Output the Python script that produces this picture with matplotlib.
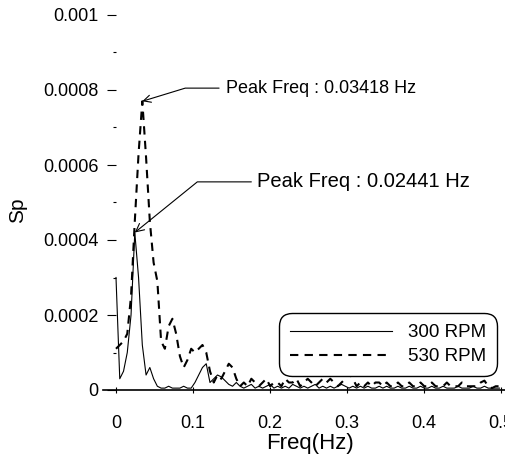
import matplotlib
matplotlib.use("Agg")
import matplotlib.pyplot as plt
import numpy as np
from matplotlib.ticker import MultipleLocator

plt.rcParams["font.family"] = ["Liberation Sans", "DejaVu Sans"]

DF = 0.0048828  # frequency resolution (Hz)

# spectral power, in units of 1e-5
SP_300 = [
    30, 3, 5, 10, 20, 42, 30, 12, 4, 6, 3, 1, 0.5, 0.5, 1, 0.5, 0.5, 0.5, 1, 0.5,
    0.5, 2, 4, 6, 7, 2, 3, 4, 3.5, 2.5, 1.5, 1, 2, 1, 0.5, 1, 1.5, 0.5, 1, 0.5,
    1, 1.5, 0.5, 1, 0.5, 1, 0.5, 1.5, 1, 0.5, 1, 0.5, 1, 1.5, 0.5, 1, 0.5, 1, 0.5, 1,
    1.5, 1, 0.5, 1, 0.5, 1, 0.5, 1, 0.5, 0.5, 1, 0.5, 1, 0.5, 0.5, 1, 0.5, 0.5, 1, 0.5,
    0.5, 1, 0.5, 0.5, 1, 0.5, 0.5, 1, 0.5, 0.5, 0.5, 1, 0.5, 0.5, 0.5, 1, 0.5, 0.5, 1, 0.5,
    0.5, 0.5, 0.5,
]
SP_530 = [
    11, 12, 13, 15, 25, 45, 63, 77, 62, 45, 34, 29, 13, 11, 17, 19, 15, 9, 6, 8,
    11, 10, 11, 12, 10, 5, 2, 4, 3, 5, 7, 6, 3, 1, 2, 1, 3, 2, 1, 2,
    3, 1, 2, 2, 1, 3, 2, 2, 3, 1, 2, 3, 2, 1, 2, 3, 2, 3, 2, 1,
    2, 3, 4.5, 3, 1, 2, 1, 2, 1, 2, 2, 1, 2, 1, 1, 2, 1, 1, 2, 1,
    1, 2, 1, 1, 2, 1, 1, 1, 2, 1, 1, 1, 2, 1, 1, 1, 1, 2, 2.5, 1,
    0.5, 1, 1,
]
LABELS = ["300 RPM", "530 RPM"]
PEAK_300 = 0.02441
PEAK_530 = 0.03418


def main() -> None:
    freq = np.arange(len(SP_530)) * DF
    sp300 = np.array(SP_300) * 1e-5
    sp530 = np.array(SP_530) * 1e-5

    fig = plt.figure(figsize=(5.06, 4.62), dpi=100)
    # axes stretch a little past the right border, as in the cropped scan
    ax = fig.add_axes([103 / 506, 72 / 462, 417 / 506, 382.5 / 462])

    ax.plot(freq, sp300, color="black", lw=0.8, label=LABELS[0])
    ax.plot(freq, sp530, color="black", lw=1.5, ls=(0, (4, 3)), label=LABELS[1])

    ax.set_xlim(-0.01688, 0.5247)
    ax.set_ylim(0, 0.00102)

    for side in ("top", "right", "left"):
        ax.spines[side].set_visible(False)
    ax.spines["left"].set_position(("data", 0))
    ax.spines["bottom"].set_linewidth(1.2)

    ax.set_xticks([0, 0.1, 0.2, 0.3, 0.4, 0.5])
    ax.set_xticklabels(["0", "0.1", "0.2", "0.3", "0.4", "0.5"])
    ax.set_yticks([0, 0.0002, 0.0004, 0.0006, 0.0008, 0.001])
    ax.set_yticklabels(["0", "0.0002", "0.0004", "0.0006", "0.0008", "0.001"])
    ax.yaxis.set_minor_locator(MultipleLocator(0.0001))
    ax.tick_params(axis="x", direction="inout", length=4, width=0.8, pad=16, labelsize=13)
    ax.tick_params(axis="y", which="major", direction="out", length=6.5, width=0.8, pad=6, labelsize=13)
    ax.tick_params(axis="y", which="minor", direction="out", length=2.5, width=0.8)

    ax.set_xlabel("Freq(Hz)", fontsize=16)
    ax.xaxis.label.set_va("center")
    ax.xaxis.set_label_coords(0.496, -0.1386)
    ax.set_ylabel("Sp", fontsize=15)
    ax.yaxis.label.set_va("center")
    ax.yaxis.set_label_coords(-0.206, 0.47)

    i530 = int(np.argmax(sp530))
    ax.annotate(
        f"Peak Freq : {PEAK_530:.5f} Hz",
        xy=(freq[i530], sp530[i530]),
        xytext=(0.1429, 0.000805),
        ha="left", va="center", fontsize=13,
        arrowprops=dict(arrowstyle="->", lw=0.8, color="black", shrinkA=3, shrinkB=0,
                        connectionstyle="angle,angleA=180,angleB=17,rad=0",
                        relpos=(0, 0.5)),
    )
    i300 = int(np.argmax(sp300[1:])) + 1
    ax.annotate(
        f"Peak Freq : {PEAK_300:.5f} Hz",
        xy=(freq[i300], sp300[i300]),
        xytext=(0.183, 0.000555),
        ha="left", va="center", fontsize=14.5,
        arrowprops=dict(arrowstyle="->", lw=0.8, color="black", shrinkA=2, shrinkB=0,
                        connectionstyle="angle,angleA=180,angleB=39,rad=0",
                        relpos=(0, 0.5)),
    )

    leg = ax.legend(
        loc="upper right", bbox_to_anchor=((497 - 103) / 417, (390 - 313) / 382.5),
        fontsize=13.5, handlelength=5.4, handletextpad=0.85, labelspacing=0.35,
        borderpad=0.6, borderaxespad=0, frameon=True, fancybox=True,
    )
    frame = leg.get_frame()
    frame.set_edgecolor("black")
    frame.set_linewidth(1.0)
    frame.set_alpha(1)
    frame.set_boxstyle("round,pad=0,rounding_size=0.7")

    fig.savefig("out.png", dpi=100)


if __name__ == "__main__":
    main()
